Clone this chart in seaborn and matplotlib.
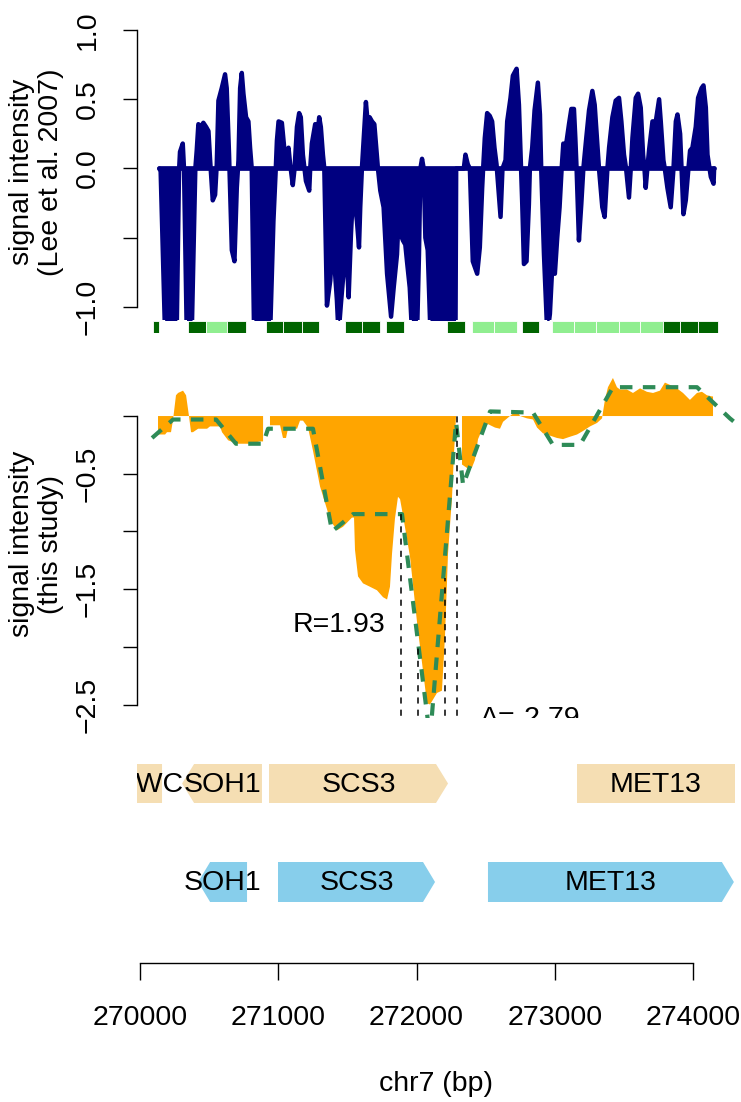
import numpy as np
import pandas as pd
import matplotlib
matplotlib.use("Agg")
import matplotlib.pyplot as plt
from matplotlib.patches import Polygon
import seaborn as sns

sns.set_style("white")
plt.rcParams['font.family'] = ['Liberation Sans', 'DejaVu Sans']
plt.rcParams.update({'text.color': 'black', 'axes.labelcolor': 'black',
                     'xtick.color': 'black', 'ytick.color': 'black',
                     'axes.edgecolor': 'black', 'axes.linewidth': 1.0})

# --- Lee et al. 2007 tiling signal (bp, value) ---
lee_pos = [270139, 270149, 270181, 270265, 270282, 270289, 270309, 270318, 270338, 270374,
           270400, 270410, 270422, 270439, 270458, 270478, 270495, 270507, 270526, 270543,
           270555, 270567, 270591, 270615, 270627, 270644, 270664, 270683, 270700, 270712,
           270724, 270736, 270748, 270767, 270784, 270796, 270808, 270825, 270941, 270965,
           270982, 270990, 271002, 271026, 271043, 271057, 271074, 271086, 271105, 271118,
           271135, 271151, 271163, 271178, 271200, 271224, 271231, 271243, 271267, 271284,
           271296, 271308, 271323, 271333, 271340, 271352, 271376, 271388, 271405, 271424,
           271436, 271453, 271473, 271492, 271509, 271526, 271540, 271557, 271569, 271584,
           271593, 271605, 271618, 271634, 271646, 271661, 271678, 271695, 271709, 271721,
           271738, 271762, 271787, 271816, 271835, 271859, 271871, 271883, 271902, 271919,
           271931, 271951, 271968, 272004, 272018, 272028, 272040, 272052, 272064, 272081,
           272101, 272282, 272287, 272342, 272354, 272371, 272386, 272407, 272439, 272458,
           272475, 272482, 272494, 272511, 272530, 272547, 272564, 272579, 272608, 272622,
           272644, 272656, 272680, 272697, 272724, 272741, 272753, 272765, 272777, 272796,
           272813, 272820, 272837, 272854, 272878, 272893, 272902, 272922, 272946, 272965,
           272982, 273001, 273018, 273035, 273050, 273062, 273079, 273103, 273120, 273139,
           273149, 273158, 273175, 273192, 273207, 273228, 273248, 273272, 273289, 273308,
           273320, 273344, 273361, 273381, 273393, 273417, 273441, 273465, 273482, 273501,
           273516, 273537, 273550, 273562, 273586, 273603, 273622, 273639, 273649, 273658,
           273670, 273682, 273707, 273731, 273755, 273767, 273786, 273796, 273815, 273839,
           273859, 273876, 273888, 273907, 273917, 273931, 273948, 273967, 273979, 273996,
           274020, 274037, 274062, 274076, 274093, 274105, 274120, 274129, 274149, 274153]
lee_val = [0.0, -0.02, -1.2, -1.2, -0.02, 0.12, 0.18, 0.0, -1.2, -1.2,
           0.0, 0.13, 0.32, 0.30, 0.33, 0.30, 0.27, 0.06, -0.23, -0.19,
           0.03, 0.49, 0.58, 0.68, 0.58, 0.10, -0.59, -0.67, -0.14, 0.06,
           0.58, 0.69, 0.54, 0.37, 0.34, 0.15, 0.0, -1.2, -1.2, -0.38,
           0.0, 0.20, 0.34, 0.33, 0.15, 0.06, 0.15, 0.03, -0.12, 0.0,
           0.30, 0.40, 0.37, 0.10, -0.09, -0.16, 0.0, 0.18, 0.32, 0.25,
           0.37, 0.30, 0.10, 0.0, -0.38, -0.99, -0.81, -0.62, -0.67, -0.95,
           -1.2, -0.98, -0.74, -0.57, -0.93, -0.47, -0.19, -0.28, -0.38, -0.57,
           -0.28, 0.0, 0.22, 0.48, 0.34, 0.37, 0.34, 0.32, 0.15, 0.0,
           -0.16, -0.28, -0.76, -1.07, -0.86, -0.62, -0.33, -0.47, -0.52, -0.55,
           -0.67, -0.86, -1.2, -1.2, -0.62, 0.0, 0.07, 0.0, -0.50, -0.59,
           -1.2, -1.2, 0.0, 0.0, 0.10, 0.03, 0.0, -0.67, -0.76, -0.57,
           -0.14, 0.0, 0.22, 0.40, 0.38, 0.34, 0.15, 0.03, -0.35, 0.0,
           0.06, 0.34, 0.51, 0.67, 0.72, 0.46, 0.10, -0.26, -0.69, -0.67,
           -0.26, 0.0, 0.15, 0.42, 0.62, 0.39, 0.0, -0.62, -1.2, -1.05,
           -0.71, -0.76, -0.50, -0.28, 0.0, 0.18, 0.15, 0.32, 0.43, 0.43,
           0.22, 0.0, -0.52, -0.26, 0.0, 0.22, 0.42, 0.56, 0.46, 0.18,
           0.0, -0.28, -0.35, 0.0, 0.15, 0.37, 0.49, 0.51, 0.34, 0.10,
           0.0, -0.21, 0.0, 0.22, 0.51, 0.54, 0.44, 0.10, 0.0, -0.14,
           0.0, 0.13, 0.34, 0.34, 0.50, 0.34, 0.06, 0.0, -0.14, -0.28,
           0.0, 0.34, 0.39, 0.25, 0.0, -0.33, -0.23, 0.0, 0.13, 0.15,
           0.30, 0.51, 0.58, 0.60, 0.44, 0.10, 0.0, -0.06, -0.11, 0.0]

# --- state blocks under the Lee track ---
state_start = [270094, 270347, 270478, 270630, 270913, 271036, 271173, 271485, 271608, 271782,
               272224, 272405, 272557, 272760, 272978, 273137, 273296, 273463, 273615, 273782,
               273905, 274035]
state_end = [270137, 270478, 270630, 270768, 271036, 271173, 271297, 271608, 271739, 271912,
             272354, 272557, 272724, 272883, 273137, 273296, 273463, 273615, 273782, 273905,
             274035, 274181]
state_kind = ['dark', 'dark', 'light', 'dark', 'dark', 'dark', 'dark', 'dark', 'dark', 'dark',
              'dark', 'light', 'light', 'dark', 'light', 'light', 'light', 'light', 'light', 'dark',
              'dark', 'dark']

# --- this study signal (bp, value); NaN = no probes ---
study_pos = [270130, 270181, 270195, 270224, 270239, 270260, 270275, 270311, 270333, 270354,
             270369, 270383, 270420, 270485, 270506, 270579, 270593, 270637, 270702, 270796,
             270868, 270890, 270915, 270940, 271013, 271034, 271056, 271070, 271136, 271157,
             271179, 271215, 271251, 271302, 271353, 271374, 271425, 271468, 271533, 271548,
             271555, 271577, 271613, 271664, 271714, 271758, 271787, 271808, 271823, 271844,
             271866, 271881, 271902, 271953, 272004, 272040, 272076, 272098, 272148, 272184,
             272206, 272228, 272257, 272271, 272286, 272308, 272329, 272365, 272400, 272423,
             272445, 272481, 272517, 272568, 272604, 272626, 272676, 272727, 272749, 272799,
             272843, 272872, 272915, 272966, 273016, 273060, 273109, 273161, 273204, 273255,
             273306, 273342, 273363, 273385, 273421, 273450, 273472, 273522, 273566, 273617,
             273667, 273711, 273761, 273797, 273833, 273884, 273928, 273978, 274029, 274065,
             274101, 274137, 274145]
study_val = [-0.16, -0.16, -0.14, -0.14, -0.03, 0.18, 0.20, 0.22, 0.18, 0.0,
             -0.14, -0.14, -0.11, -0.11, -0.09, -0.09, -0.14, -0.21, -0.24, -0.24,
             -0.22, -0.22, np.nan, -0.08, -0.08, -0.19, -0.19, -0.11, -0.11, -0.04,
             -0.04, -0.10, -0.30, -0.61, -0.81, -0.90, -0.99, -0.96, -0.88, -0.88,
             -1.16, -1.39, -1.45, -1.48, -1.51, -1.57, -1.59, -1.48, -1.19, -0.89,
             -0.70, -0.72, -0.86, -1.22, -1.79, -2.14, -2.49, -2.50, -2.40, -2.38,
             -1.91, -1.19, -0.70, -0.33, 0.0, np.nan, -0.42, -0.45, -0.45, -0.38,
             -0.20, -0.10, -0.07, -0.10, -0.11, -0.05, 0.0, 0.05, 0.0, -0.02,
             -0.03, -0.10, -0.15, -0.17, -0.19, -0.20, -0.18, -0.16, -0.13, -0.09,
             -0.06, -0.02, 0.14, 0.25, 0.33, 0.25, 0.23, 0.23, 0.20, 0.24,
             0.21, 0.20, 0.22, 0.29, 0.27, 0.24, 0.20, 0.14, 0.20, 0.21,
             0.18, 0.17, 0.17]

# --- smoothed / segmented profile ---
seg_pos = [270087, 270239, 270550, 270694, 270890, 270926, 271251, 271389, 271541, 271895,
           272098, 272286, 272337, 272532, 272843, 272987, 273183, 273421, 274029, 274267, 274318]
seg_val = [-0.19, -0.03, -0.03, -0.24, -0.24, -0.11, -0.11, -1.00, -0.85, -0.85,
           -2.79, -0.05, -0.60, 0.04, 0.03, -0.25, -0.25, 0.25, 0.25, -0.02, -0.07]

# --- dip markers ---
mark_pos = [271888, 272011, 272206, 272293]
mark_top = [-0.85, -2.0, -1.4, 0.0]

# --- gene models ---
gene_name = ['CWC', 'SOH1', 'SCS3', 'MET13', 'SOH1', 'SCS3', 'MET13']
gene_start = [269700, 270304, 270933, 273161, 270420, 270998, 272517]
gene_end = [270159, 270882, 272228, 274600, 270774, 272134, 274296]
gene_strand = ['-', '-', '+', '+', '-', '+', '+']
gene_track = ['top', 'top', 'top', 'top', 'bottom', 'bottom', 'bottom']

x_ticks = [270000, 271000, 272000, 273000, 274000]

# ---------------------------------------------------------------
W, H = 741, 1102
fig = plt.figure(figsize=(W / 100, H / 100), dpi=100)
XLIM = (269978, 274304)
LEFT, RIGHT = 137, 735
FS = 20.5


def px_axes(top, bottom):
    return fig.add_axes([LEFT / W, 1 - bottom / H, (RIGHT - LEFT) / W, (bottom - top) / H])


def clean(ax):
    for s in ['top', 'right', 'bottom']:
        ax.spines[s].set_visible(False)
    ax.set_xlim(*XLIM)
    ax.set_xticks([])
    ax.set_xlabel('')


# top track
ax1 = px_axes(25, 320)
lee = pd.DataFrame({'pos': lee_pos, 'val': lee_val})
ax1.fill_between(lee['pos'], 0, lee['val'], color='navy', lw=0)
sns.lineplot(data=lee, x='pos', y='val', ax=ax1, color='navy', linewidth=3.2,
             estimator=None, sort=False, solid_joinstyle='round', solid_capstyle='round')
ax1.plot([lee_pos[0], lee_pos[-1]], [0, 0], color='navy', lw=3.4, solid_capstyle='round')
clean(ax1)
ax1.set_ylim(-1.094, 1.036)
ax1.spines['left'].set_bounds(-1, 1)
ax1.set_yticks([1.0, 0.5, 0.0, -0.5, -1.0])
ax1.set_yticklabels(['1.0', '0.5', '0.0', '', '\u22121.0'], rotation=90, va='center')
ax1.set_ylabel('')
ax1.tick_params(axis='y', length=10, width=1, labelsize=FS, pad=16, left=True)
fig.text(37 / W, 1 - 172 / H, 'signal intensity\n(Lee et al. 2007)', rotation=90,
         ha='center', va='center', fontsize=FS, linespacing=1.15)

# state blocks
axs = px_axes(321, 333)
state_col = {'dark': '#006400', 'light': '#90EE90'}
for s, e, k in zip(state_start, state_end, state_kind):
    axs.barh(0.5, e - s, left=s, height=1, color=state_col[k], edgecolor='white', lw=0.6)
axs.set_xlim(*XLIM)
axs.set_ylim(0, 1)
axs.axis('off')

# middle track
ax2 = px_axes(370, 718)
ax2.fill_between(study_pos, 0, study_val, color='orange', lw=0)
ax2.plot(seg_pos, seg_val, color='seagreen', lw=3, dashes=(3, 2.5), zorder=4)
ax2.vlines(mark_pos, -2.7, mark_top, colors='black', lw=1.1, linestyles=(0, (4, 4)), zorder=5)
ax2.text(271772, -1.87, 'R=1.93', ha='right', va='baseline', fontsize=FS)
ax2.text(272459, -2.69, 'A=-2.79', ha='left', va='baseline', fontsize=FS, clip_on=True)
clean(ax2)
ax2.set_ylim(-2.617, 0.399)
ax2.spines['left'].set_bounds(-2.5, 0)
ax2.set_yticks([0, -0.5, -1.0, -1.5, -2.0, -2.5])
ax2.set_yticklabels(['', '\u22120.5', '', '\u22121.5', '', '\u22122.5'], rotation=90, va='center')
ax2.tick_params(axis='y', length=10, width=1, labelsize=FS, pad=16, left=True)
fig.text(37 / W, 1 - 544 / H, 'signal intensity\n(this study)', rotation=90,
         ha='center', va='center', fontsize=FS, linespacing=1.15)

# gene tracks
ax3 = px_axes(740, 925)
ax3.set_xlim(*XLIM)
ax3.set_ylim(185, 0)
ax3.axis('off')
row = {'top': (43.5, 19.5, '#F5DEB3'), 'bottom': (142, 20, '#87CEEB')}
tip = 87
for name, s, e, strand, tr in zip(gene_name, gene_start, gene_end, gene_strand, gene_track):
    yc, h, col = row[tr]
    if strand == '+':
        pts = [(s, yc - h), (e - tip, yc - h), (e, yc), (e - tip, yc + h), (s, yc + h)]
    else:
        pts = [(s, yc), (s + tip, yc - h), (e, yc - h), (e, yc + h), (s + tip, yc + h)]
    ax3.add_patch(Polygon(pts, closed=True, facecolor=col, edgecolor='none'))
    cx = (max(s, XLIM[0]) + min(e, XLIM[1])) / 2
    ax3.text(cx, yc + 1, name, ha='center', va='center', fontsize=FS, clip_on=True)

# genome axis
ax4 = px_axes(940, 963)
for s in ['top', 'right', 'left']:
    ax4.spines[s].set_visible(False)
ax4.set_xlim(*XLIM)
ax4.set_yticks([])
ax4.set_xticks(x_ticks)
ax4.set_xticklabels([str(t) for t in x_ticks])
ax4.spines['bottom'].set_bounds(x_ticks[0], x_ticks[-1])
ax4.tick_params(axis='x', length=12, width=1, labelsize=FS, pad=18, bottom=True)
ax4.set_xlabel('chr7 (bp)', fontsize=FS)
ax4.xaxis.set_label_coords(0.5, -(1071 - 963) / 23)
ax4.patch.set_visible(False)

fig.savefig('out.png', dpi=100)
